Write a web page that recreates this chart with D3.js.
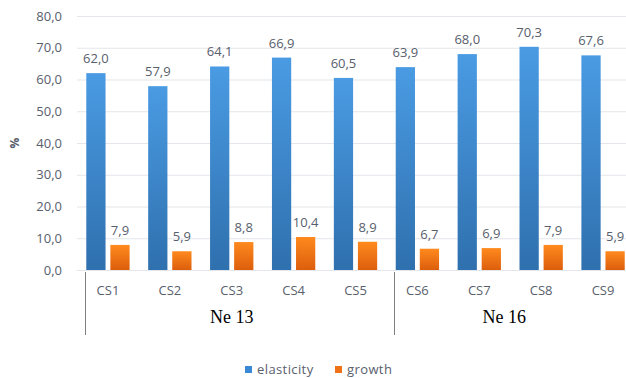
<!DOCTYPE html>
<html>
<head>
<meta charset="utf-8">
<script src="https://cdn.jsdelivr.net/npm/d3@7/dist/d3.min.js"></script>
<style>
  html, body { margin: 0; padding: 0; background: #fff; }
  svg { display: block; }
</style>
</head>
<body>
<svg id="chart" width="626" height="378"></svg>
<script>
// Elasticity and growth per sample, grouped by series
const categories = ["CS1", "CS2", "CS3", "CS4", "CS5", "CS6", "CS7", "CS8", "CS9"];
const elasticity = [62.0, 57.9, 64.1, 66.9, 60.5, 63.9, 68.0, 70.3, 67.6];
const growth = [7.9, 5.9, 8.8, 10.4, 8.9, 6.7, 6.9, 7.9, 5.9];
const seriesNames = ["elasticity", "growth"];
const groups = [
  { name: "Ne 13", members: ["CS1", "CS2", "CS3", "CS4", "CS5"] },
  { name: "Ne 16", members: ["CS6", "CS7", "CS8", "CS9"] }
];
const yTicks = [0, 10, 20, 30, 40, 50, 60, 70, 80];

const svg = d3.select("#chart");
const W = 626;
const fmt = v => d3.format(".1f")(v).replace(".", ",");
const textColor = "#58606d";
const sans = "'Open Sans', sans-serif";

const x0 = d3.scaleBand().domain(categories).range([77, 634]).paddingInner(0.3).paddingOuter(0.15);
const x1 = d3.scaleBand().domain(seriesNames).range([0, x0.bandwidth()]).paddingInner(0.2);
const y = d3.scaleLinear().domain([0, 80]).range([270, 16]);

// Gradients for the bar fills
const defs = svg.append("defs");
const grads = {
  elasticity: ["#4a9be3", "#2f70ae"],
  growth: ["#ff8a1e", "#dc5e0c"]
};
Object.entries(grads).forEach(([k, [c0, c1]]) => {
  const g = defs.append("linearGradient").attr("id", "g-" + k)
    .attr("x1", 0).attr("y1", 0).attr("x2", 0).attr("y2", 1);
  g.append("stop").attr("offset", "0%").attr("stop-color", c0);
  g.append("stop").attr("offset", "100%").attr("stop-color", c1);
});

// Gridlines + y tick labels
const yAxis = d3.axisLeft(y).tickValues(yTicks).tickSize(-(W - 77)).tickFormat(fmt).tickPadding(15);
const ga = svg.append("g").attr("transform", "translate(77,0)").call(yAxis);
ga.select(".domain").remove();
ga.selectAll(".tick line").attr("stroke", "#e3e6ea").attr("stroke-width", 1.2);
ga.selectAll(".tick text")
  .attr("fill", textColor)
  .style("font-family", sans)
  .style("font-size", "13px");

// Y axis title
svg.append("text")
  .attr("transform", "translate(19,143) rotate(-90)")
  .attr("text-anchor", "middle")
  .attr("fill", textColor)
  .style("font-family", sans)
  .style("font-size", "12px")
  .style("font-weight", "bold")
  .text("%");

// Bars
const rows = categories.map((c, i) => ({ cat: c, elasticity: elasticity[i], growth: growth[i] }));
const gCat = svg.append("g").selectAll("g").data(rows).join("g")
  .attr("transform", d => `translate(${x0(d.cat)},0)`);

const bars = gCat.selectAll("g.bar").data(d => seriesNames.map(s => ({ s, v: d[s] }))).join("g").attr("class", "bar");
bars.append("rect")
  .attr("x", d => x1(d.s))
  .attr("y", d => y(d.v))
  .attr("width", x1.bandwidth())
  .attr("height", d => y(0) - y(d.v))
  .attr("fill", d => `url(#g-${d.s})`);
bars.append("text")
  .attr("x", d => x1(d.s) + x1.bandwidth() / 2)
  .attr("y", d => y(d.v) - 10)
  .attr("text-anchor", "middle")
  .attr("fill", textColor)
  .style("font-family", sans)
  .style("font-size", "13px")
  .text(d => fmt(d.v));

// Category labels
svg.append("g").selectAll("text").data(categories).join("text")
  .attr("x", d => x0(d) + x0.bandwidth() / 2)
  .attr("y", 295)
  .attr("text-anchor", "middle")
  .attr("fill", textColor)
  .style("font-family", sans)
  .style("font-size", "13px")
  .text(d => d);

// Group separators and labels
const step = x0.step();
const sepX = groups.map(g => Math.round(x0(g.members[0]) - step * 0.15 + 8) + 0.5);
svg.append("g").selectAll("line").data(sepX).join("line")
  .attr("x1", d => d).attr("x2", d => d)
  .attr("y1", 272).attr("y2", 335)
  .attr("stroke", "#7f7f7f").attr("stroke-width", 1);

svg.append("g").selectAll("text").data(groups).join("text")
  .attr("x", (g, i) => {
    const a = x0(g.members[0]);
    const b = x0(g.members[g.members.length - 1]) + x0.bandwidth();
    return (a + b) / 2 - (i === 1 ? 6 : 0);
  })
  .attr("y", 323)
  .attr("text-anchor", "middle")
  .attr("fill", "#000")
  .style("font-family", "'Liberation Serif', 'Times New Roman', serif")
  .style("font-size", "18px")
  .text(g => g.name);

// Legend
const legend = svg.append("g");
const legendItems = [
  { s: "elasticity", x: 245, color: "#3b88d4" },
  { s: "growth", x: 335, color: "#f07218" }
];
legendItems.forEach(it => {
  legend.append("rect").attr("x", it.x).attr("y", 366).attr("width", 7).attr("height", 7).attr("fill", it.color);
  legend.append("text")
    .attr("x", it.x + 12).attr("y", 374)
    .attr("fill", textColor)
    .style("font-family", sans)
    .style("font-size", "13px")
    .style("letter-spacing", "0.4px")
    .text(it.s);
});
</script>
</body>
</html>
